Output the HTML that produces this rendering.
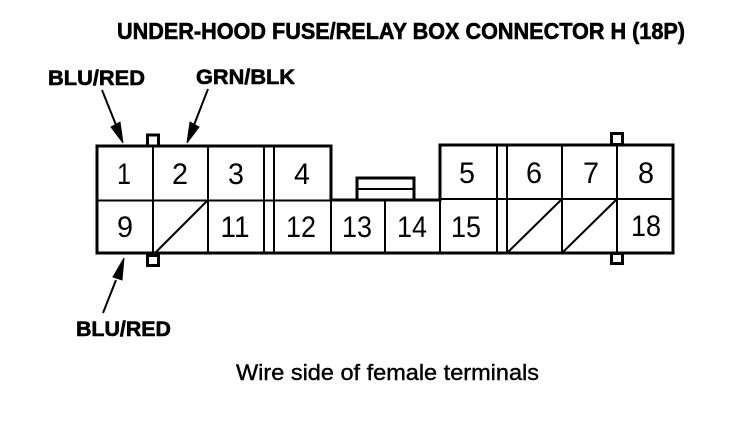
<!DOCTYPE html>
<html><head><meta charset="utf-8"><style>
html,body{margin:0;padding:0;background:#fff}
svg{display:block}
text{font-family:"Liberation Sans",sans-serif;fill:#000}
.b{font-weight:bold;stroke:#000;stroke-width:.6px}
.n{font-size:30px;text-anchor:middle}
</style></head><body>
<svg width="752" height="432" viewBox="0 0 752 432" xmlns="http://www.w3.org/2000/svg">
<rect width="752" height="432" fill="#fff"/>
<text class="b" x="117" y="39" font-size="23" textLength="568" lengthAdjust="spacingAndGlyphs">UNDER-HOOD FUSE/RELAY BOX CONNECTOR H (18P)</text>
<text class="b" x="48" y="85" font-size="21" textLength="97" lengthAdjust="spacingAndGlyphs">BLU/RED</text>
<text class="b" x="196" y="84" font-size="21" textLength="99" lengthAdjust="spacingAndGlyphs">GRN/BLK</text>
<text class="b" x="76" y="336" font-size="21" textLength="95" lengthAdjust="spacingAndGlyphs">BLU/RED</text>
<text x="236" y="380" font-size="22" stroke="#000" stroke-width=".4" textLength="303" lengthAdjust="spacingAndGlyphs">Wire side of female terminals</text>

<g fill="none" stroke="#000" stroke-width="3">
<path d="M97 146H331V200H440V145H673V253H97Z"/>
<rect x="147.500" y="135" width="11" height="11"/>
<rect x="147.500" y="255.500" width="11" height="10"/>
<rect x="611.500" y="133.500" width="11" height="11"/>
<rect x="611.500" y="253.500" width="11" height="10"/>
<path d="M357 199V178H414V199"/>
</g>
<g fill="none" stroke="#000" stroke-width="2">
<path d="M97 200.500H331M440 199H673M357 189H414"/>
<path d="M153 146V254M208 146V254M264 146V254M274 146V254M331 200V254M385 200V254M440 199V254M497 145V253M507 145V253M562 145V253M617 145V253"/>
<path d="M154 254L208 200M508 252L562 199M563 252L617 199"/>
<path d="M102 90L116 125M208 89L194 125M103 313L116 280"/>
</g>
<path d="M123 143L111 127L120 122Z M187 143L190 122L199 127Z M124 258L113 277L122 280Z" fill="#000" stroke="#000"/>

<text class="n" x="124" y="184" textLength="14" lengthAdjust="spacingAndGlyphs">1</text>
<text class="n" x="180" y="184" textLength="16" lengthAdjust="spacingAndGlyphs">2</text>
<text class="n" x="236" y="184" textLength="16" lengthAdjust="spacingAndGlyphs">3</text>
<text class="n" x="302" y="184" textLength="16" lengthAdjust="spacingAndGlyphs">4</text>
<text class="n" x="467" y="183" textLength="16" lengthAdjust="spacingAndGlyphs">5</text>
<text class="n" x="534" y="183" textLength="16" lengthAdjust="spacingAndGlyphs">6</text>
<text class="n" x="591" y="183" textLength="16" lengthAdjust="spacingAndGlyphs">7</text>
<text class="n" x="646" y="183" textLength="16" lengthAdjust="spacingAndGlyphs">8</text>
<text class="n" x="125" y="237" textLength="16" lengthAdjust="spacingAndGlyphs">9</text>
<text class="n" x="235" y="237" textLength="29" lengthAdjust="spacingAndGlyphs">11</text>
<text class="n" x="301" y="237" textLength="30" lengthAdjust="spacingAndGlyphs">12</text>
<text class="n" x="357" y="237" textLength="30" lengthAdjust="spacingAndGlyphs">13</text>
<text class="n" x="412" y="237" textLength="30" lengthAdjust="spacingAndGlyphs">14</text>
<text class="n" x="466" y="237" textLength="30" lengthAdjust="spacingAndGlyphs">15</text>
<text class="n" x="646" y="236" textLength="30" lengthAdjust="spacingAndGlyphs">18</text>
</svg>
</body></html>
